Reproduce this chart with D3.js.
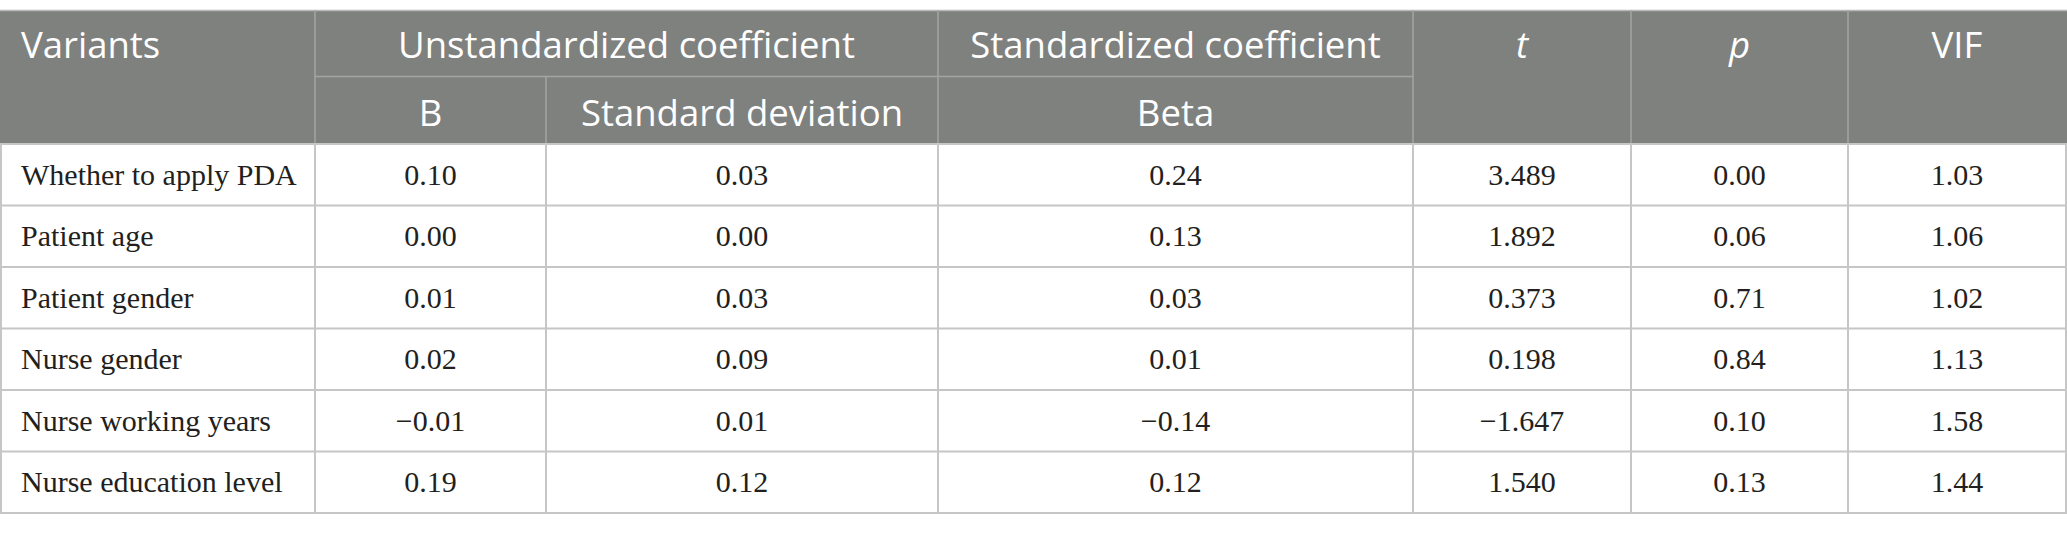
<!DOCTYPE html>
<html>
<head>
<meta charset="utf-8">
<script src="https://cdn.jsdelivr.net/npm/d3@7/dist/d3.min.js"></script>
<style>
html,body{margin:0;padding:0;background:#fff;}
svg{display:block;}
</style>
</head>
<body>
<svg id="chart" width="2067" height="533"></svg>
<script>
// ---- data ----
const variants = ["Whether to apply PDA","Patient age","Patient gender","Nurse gender","Nurse working years","Nurse education level"];
const unstdB = ["0.10","0.00","0.01","0.02","\u22120.01","0.19"];
const unstdSD = ["0.03","0.00","0.03","0.09","0.01","0.12"];
const stdBeta = ["0.24","0.13","0.03","0.01","\u22120.14","0.12"];
const tValues = ["3.489","1.892","0.373","0.198","\u22121.647","1.540"];
const pValues = ["0.00","0.06","0.71","0.84","0.10","0.13"];
const vifValues = ["1.03","1.06","1.02","1.13","1.58","1.44"];
const headerTop = ["Variants","Unstandardized coefficient","Standardized coefficient","t","p","VIF"];
const headerSub = ["B","Standard deviation","Beta"];

// ---- layout ----
const W = 2067, H = 533;
const colEdges = [1, 315, 546, 938, 1413, 1631, 1848, 2066];
const yTop = 10, ySub = 76.5, yHead = 144, yBottom = 513;
const headFill = "#7f817f", headLine = "#a3a5a3", gridLine = "#c6c6c6";
const sansFont = "'Open Sans', 'Noto Sans', sans-serif";
const serifFont = "'Liberation Serif', 'DejaVu Serif', serif";

const svg = d3.select("#chart");
const y = d3.scaleBand().domain(variants).range([yHead, yBottom]);
const colIdx = d3.range(colEdges.length - 1);
const x = d3.scaleOrdinal().domain(colIdx).range(colIdx.map(i => (colEdges[i] + colEdges[i+1]) / 2));

// header background
svg.append("rect").attr("x", 0).attr("y", yTop).attr("width", W).attr("height", yHead - yTop).attr("fill", headFill);

// header lines
const hl = svg.append("g").attr("stroke", headLine).attr("stroke-width", 1.5);
hl.append("line").attr("x1", colEdges[1]).attr("x2", colEdges[4]).attr("y1", ySub).attr("y2", ySub);
hl.append("line").attr("x1", 0).attr("x2", W).attr("y1", yTop + 0.5).attr("y2", yTop + 0.5).attr("stroke", "#b8b8b8");
[1, 3, 4, 5, 6].forEach(i => hl.append("line").attr("x1", colEdges[i]).attr("x2", colEdges[i]).attr("y1", yTop).attr("y2", yHead));
hl.append("line").attr("x1", colEdges[2]).attr("x2", colEdges[2]).attr("y1", ySub).attr("y2", yHead);

// body grid
const gl = svg.append("g").attr("stroke", gridLine).attr("stroke-width", 2);
const rowEdges = variants.map(v => y(v)).concat([yBottom]);
rowEdges.forEach(r => gl.append("line").attr("x1", 0).attr("x2", W).attr("y1", r).attr("y2", r));
colEdges.forEach(c => gl.append("line").attr("x1", c).attr("x2", c).attr("y1", yHead).attr("y2", yBottom));

// header text
const ht = svg.append("g").attr("fill", "#fff").attr("font-family", sansFont).attr("font-size", 36.5);
const topBase = 58, subBase = 126;
ht.append("text").attr("x", 21).attr("y", topBase).text(headerTop[0]);
ht.append("text").attr("x", (colEdges[1] + colEdges[3]) / 2).attr("y", topBase).attr("text-anchor", "middle").text(headerTop[1]);
ht.append("text").attr("x", x(3)).attr("y", topBase).attr("text-anchor", "middle").text(headerTop[2]);
[4, 5, 6].forEach((c, k) => ht.append("text").attr("x", x(c)).attr("y", topBase).attr("text-anchor", "middle")
  .attr("font-style", k < 2 ? "italic" : null).text(headerTop[3 + k]));
headerSub.forEach((s, k) => ht.append("text").attr("x", x(k + 1)).attr("y", subBase).attr("text-anchor", "middle").text(s));

// body text
const bt = svg.append("g").attr("fill", "#231f20").attr("font-family", serifFont).attr("font-size", 30);
const cols = [unstdB, unstdSD, stdBeta, tValues, pValues, vifValues];
const base = v => y(v) + y.bandwidth() / 2 + 10;
bt.selectAll("text.lab").data(variants).join("text").attr("class", "lab")
  .attr("x", 21).attr("y", d => base(d)).text(d => d);
cols.forEach((arr, ci) => {
  bt.selectAll("text.c" + ci).data(arr).join("text").attr("class", "c" + ci)
    .attr("x", x(ci + 1)).attr("y", (d, i) => base(variants[i])).attr("text-anchor", "middle").text(d => d);
});
</script>
</body>
</html>
